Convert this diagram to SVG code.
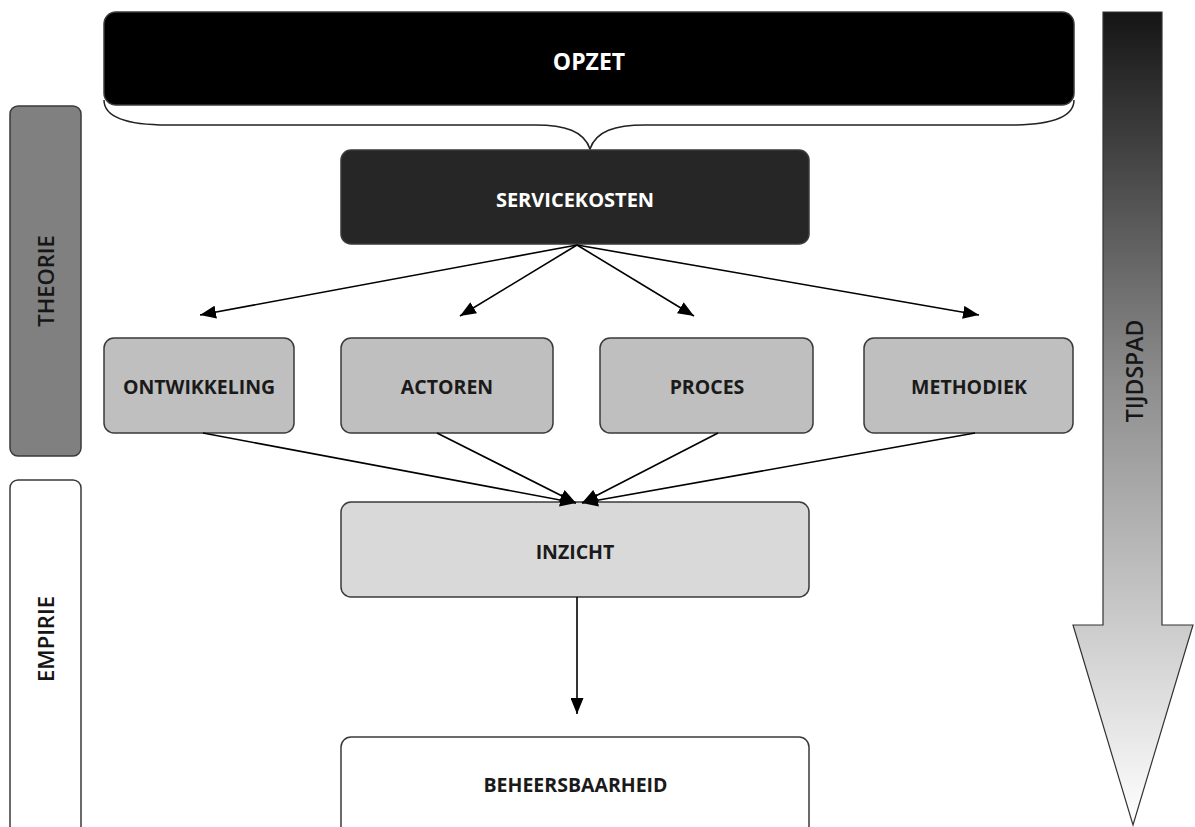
<svg xmlns="http://www.w3.org/2000/svg" width="1195" height="827" viewBox="0 0 1195 827">
  <defs>
    <linearGradient id="timeFill" gradientUnits="userSpaceOnUse" x1="0" y1="12" x2="0" y2="825">
      <stop offset="0" stop-color="#151515"/>
      <stop offset="0.45" stop-color="#8c8c8c"/>
      <stop offset="1" stop-color="#ffffff"/>
    </linearGradient>
    <marker id="head" markerUnits="userSpaceOnUse" markerWidth="17" markerHeight="13" refX="16" refY="6.5" orient="auto">
      <path d="M0,0 L16,6.5 L0,13 Z" fill="#000"/>
    </marker>
    <style>
      .box { stroke: #3a3a3a; stroke-width: 1.5; }
      .lbl { font-family: "Open Sans", "Liberation Sans", sans-serif; font-weight: bold; text-anchor: middle; }
      .side { font-family: "Open Sans", "Liberation Sans", sans-serif; font-weight: 600; text-anchor: middle; fill: #161616; }
      .link { stroke: #000; stroke-width: 1.6; fill: none; marker-end: url(#head); }
    </style>
  </defs>
  <rect width="1195" height="827" fill="#ffffff"/>

  <!-- side phases -->
  <g id="theorie">
    <rect class="box" x="10" y="106" width="71" height="350" rx="8" fill="#808080"/>
    <text class="side" font-size="22" transform="translate(46,281) rotate(-90)" y="8">THEORIE</text>
  </g>
  <g id="empirie">
    <rect class="box" x="10" y="480" width="71" height="360" rx="8" fill="#ffffff"/>
    <text class="side" font-size="22" transform="translate(46,639) rotate(-90)" y="8">EMPIRIE</text>
  </g>

  <!-- time path arrow -->
  <g id="tijdspad">
    <polygon points="1103,12 1162,12 1162,625 1193,625 1133,825 1073,625 1103,625" fill="url(#timeFill)" stroke="#333" stroke-width="1.2"/>
    <text class="side" font-size="23" transform="translate(1134,371) rotate(-90)" y="8.5">TIJDSPAD</text>
  </g>

  <!-- top box with brace -->
  <g id="opzet">
    <rect class="box" x="104" y="12" width="970" height="93" rx="12" fill="#000"/>
    <text class="lbl" x="589" y="69.5" font-size="23" fill="#fff">OPZET</text>
    <path d="M104,100 C104,118 128,125 168,125 L535,125 C565,125 584,131 590,149 C596,131 615,125 645,125 L1010,125 C1050,125 1074,118 1074,100" fill="none" stroke="#222" stroke-width="1.5"/>
  </g>

  <g id="servicekosten">
    <rect class="box" x="341" y="150" width="468" height="94" rx="10" fill="#262626"/>
    <text class="lbl" x="575" y="206.5" font-size="20" fill="#fff">SERVICEKOSTEN</text>
  </g>

  <g id="ontwikkeling">
    <rect class="box" x="104" y="338" width="190" height="95" rx="10" fill="#bfbfbf"/>
    <text class="lbl" x="199" y="394" font-size="19.5" fill="#1a1a1a">ONTWIKKELING</text>
  </g>
  <g id="actoren">
    <rect class="box" x="341" y="338" width="212" height="95" rx="10" fill="#bfbfbf"/>
    <text class="lbl" x="447" y="394" font-size="19.5" fill="#1a1a1a">ACTOREN</text>
  </g>
  <g id="proces">
    <rect class="box" x="600" y="338" width="213" height="95" rx="10" fill="#bfbfbf"/>
    <text class="lbl" x="707" y="394" font-size="19.5" fill="#1a1a1a">PROCES</text>
  </g>
  <g id="methodiek">
    <rect class="box" x="864" y="338" width="209" height="95" rx="10" fill="#bfbfbf"/>
    <text class="lbl" x="969" y="394" font-size="19.5" fill="#1a1a1a">METHODIEK</text>
  </g>

  <g id="inzicht">
    <rect class="box" x="341" y="502" width="468" height="95" rx="10" fill="#d9d9d9"/>
    <text class="lbl" x="575" y="559" font-size="19.5" fill="#1a1a1a">INZICHT</text>
  </g>

  <g id="beheersbaarheid">
    <rect class="box" x="341" y="737" width="468" height="100" rx="10" fill="#ffffff"/>
    <text class="lbl" x="575.5" y="792" font-size="19.5" fill="#1a1a1a">BEHEERSBAARHEID</text>
  </g>

  <!-- connectors -->
  <g id="connectors">
    <line class="link" x1="577" y1="245" x2="200" y2="315"/>
    <line class="link" x1="577" y1="245" x2="460" y2="316"/>
    <line class="link" x1="577" y1="245" x2="694" y2="316"/>
    <line class="link" x1="577" y1="245" x2="979" y2="315"/>
    <line class="link" x1="203" y1="433" x2="576" y2="503"/>
    <line class="link" x1="437" y1="433" x2="576" y2="503"/>
    <line class="link" x1="718" y1="433" x2="582" y2="503"/>
    <line class="link" x1="975" y1="433" x2="582" y2="503"/>
    <line class="link" x1="577" y1="597" x2="577" y2="714"/>
  </g>
</svg>
